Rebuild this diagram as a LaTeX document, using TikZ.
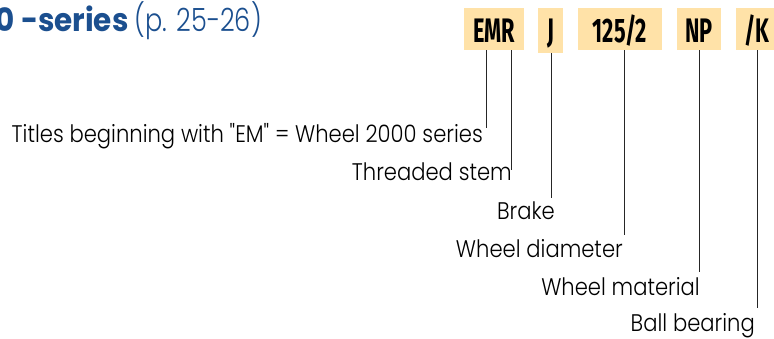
\documentclass[tikz,border=0pt]{standalone}
\usepackage{fontspec}
\newfontfamily\labfont{Poppins Light}[FakeStretch=0.88]
\newfontfamily\titlelight{Poppins Light}[FakeStretch=0.8]
\newfontfamily\titlebold{Poppins Bold}[FakeStretch=0.92]
\newfontfamily\codefont{Fira Sans}[FakeStretch=0.64]
\definecolor{boxc}{HTML}{FFE2A8}
\definecolor{titleblue}{HTML}{1B4F8F}
\tikzset{
  codebox/.style={fill=boxc, inner sep=0, text height=34pt, text depth=8pt, anchor=base,
    font=\codefont\bfseries\fontsize{34}{34}\selectfont},
  lab/.style={anchor=base east, inner sep=0, font=\labfont\fontsize{24}{24}\selectfont},
  link/.style={draw=black!85, line width=0.9pt}
}
\begin{document}
\begin{tikzpicture}[x=1pt,y=-1pt]
\useasboundingbox (0,0) rectangle (774,338);
\clip (0,0) rectangle (774,338);
% title
\node[anchor=base east, inner sep=0, text=titleblue] (title) at (262,31)
  {\titlebold\fontsize{32}{32}\selectfont 0 -series\hspace{6pt}\titlelight\fontsize{32}{32}\selectfont (p. 25-26)};
% code boxes
\node[codebox, minimum width=60pt] (emr) at (494,42) {EMR};
\node[codebox, minimum width=25pt, text depth=11pt] (j) at (550.5,42) {J};
\node[codebox, minimum width=84pt] (dia) at (620,42) {125/2};
\node[codebox, minimum width=44pt] (np) at (699,42) {NP};
\node[codebox, minimum width=42pt] (k) at (757,42) {/K};
% labels
\node[lab] (l1) at (483,142) {Titles beginning with "EM" = Wheel 2000 series};
\node[lab] (l2) at (512,180) {Threaded stem};
\node[lab] (l3) at (555,219) {Brake};
\node[lab] (l4) at (623,257) {Wheel diameter};
\node[lab] (l5) at (700,295) {Wheel material};
\node[lab] (l6) at (755,331) {Ball bearing};
% connector ends
\coordinate (e1) at (486,128);
\coordinate (e2) at (511,170);
\coordinate (e3) at (551,198);
\coordinate (e4) at (624,235);
\coordinate (e5) at (699,272);
\coordinate (e6) at (757,308);
\draw[link] (emr.south -| e1) -- (e1);
\draw[link] (emr.south -| e2) -- (e2);
\draw[link] (j.south -| e3) -- (e3);
\draw[link] (dia.south -| e4) -- (e4);
\draw[link] (np.south -| e5) -- (e5);
\draw[link] (k.south -| e6) -- (e6);
\end{tikzpicture}
\end{document}
